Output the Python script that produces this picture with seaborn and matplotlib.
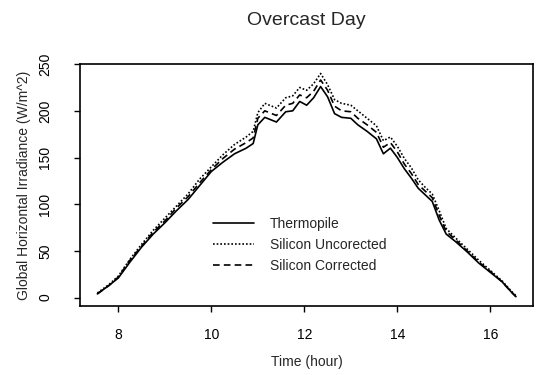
import pandas as pd
import matplotlib
matplotlib.use("Agg")
import matplotlib.pyplot as plt
import seaborn as sns

# values
hours = [7.55, 7.8, 8.0, 8.25, 8.5, 8.75, 9.0, 9.25, 9.5, 9.75, 10.0, 10.25, 10.5, 10.75, 10.9,
         11.0, 11.15, 11.3, 11.4, 11.6, 11.75, 11.9, 12.05, 12.2, 12.35, 12.5, 12.65, 12.8, 13.0,
         13.15, 13.35, 13.55, 13.7, 13.85, 14.0, 14.15, 14.3, 14.45, 14.6, 14.75, 14.9, 15.05,
         15.25, 15.5, 15.75, 16.0, 16.25, 16.45, 16.55]
thermopile = [4, 13, 21, 38, 54, 68, 80, 93, 105, 120, 135, 145, 154, 160, 165,
              185, 193, 190, 188, 199, 200, 210, 206, 214, 226, 215, 197, 193, 192,
              185, 178, 170, 154, 160, 150, 138, 128, 117, 110, 103, 83, 68,
              60, 49, 37, 27, 17, 6, 1]
si_uncorrected = [5, 14, 23, 41, 57, 72, 85, 98, 111, 127, 140, 153, 164, 172, 178,
                  198, 208, 205, 203, 214, 216, 225, 222, 229, 240, 228, 212, 208, 206,
                  200, 192, 184, 168, 172, 162, 149, 139, 126, 118, 111, 93, 74,
                  64, 52, 40, 29, 18, 7, 2]
si_corrected = [4, 13, 22, 40, 55, 70, 82, 96, 108, 123, 137, 149, 159, 166, 171,
                192, 200, 197, 195, 206, 208, 217, 214, 221, 233, 222, 205, 200, 199,
                192, 185, 177, 161, 166, 156, 143, 133, 121, 114, 107, 88, 71,
                62, 50, 38, 28, 17, 6, 1]

names = ["Thermopile", "Silicon Uncorected", "Silicon Corrected"]
df = pd.DataFrame({
    "hour": hours * 3,
    "irr": thermopile + si_uncorrected + si_corrected,
    "sensor": [names[0]] * len(hours) + [names[1]] * len(hours) + [names[2]] * len(hours),
})

sns.set_style("ticks")
plt.rcParams["font.family"] = ["Liberation Sans", "DejaVu Sans"]

fig = plt.figure(figsize=(5.38, 3.75), dpi=100)
ax = fig.add_axes([0.149, 0.184, 0.842, 0.645])

sns.lineplot(data=df, x="hour", y="irr", hue="sensor", style="sensor",
             palette=["black"] * 3,
             dashes={names[0]: "", names[1]: (1, 1.2), names[2]: (4, 2.5)},
             linewidth=1.2, ax=ax)

ax.set_xlim(7.18, 16.92)
ax.set_ylim(-9, 250)
ax.set_xticks([8, 10, 12, 14, 16])
ax.set_yticks([0, 50, 100, 150, 200, 250])
for s in ax.spines.values():
    s.set_visible(True)
    s.set_linewidth(1.2)
    s.set_color("black")
ax.tick_params(labelsize=10, length=4, width=1, colors="black")
ax.tick_params(axis="x", pad=12)
ax.tick_params(axis="y", pad=16)
for lab in ax.get_yticklabels():
    lab.set_rotation(90)
    lab.set_va("center")

ax.set_xlabel("Time (hour)", fontsize=10, labelpad=9)
ax.set_ylabel("Global Horizontal Irradiance (W/m^2)", fontsize=10, labelpad=5)
ax.set_title("Overcast Day", fontsize=14, pad=28)

ax.legend(loc="upper left", bbox_to_anchor=(0.265, 0.42), frameon=False,
          fontsize=10, handlelength=3.0, labelspacing=0.5, handletextpad=1.1)

fig.savefig("out.png", dpi=100)
